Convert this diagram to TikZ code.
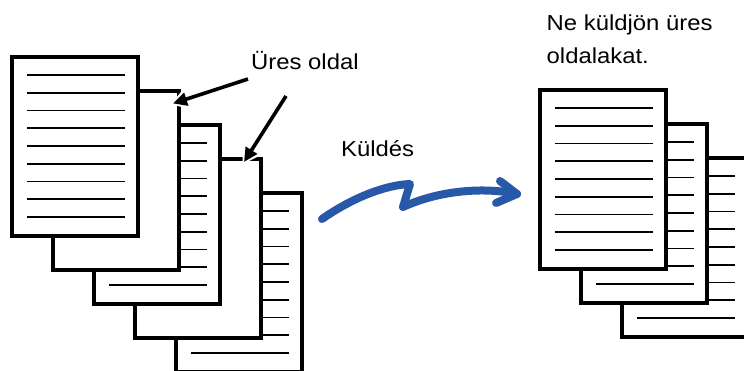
\documentclass[tikz,border=0pt]{standalone}
\usepackage{fontspec}
\setmainfont{Liberation Sans}[FakeStretch=1.1]
\usetikzlibrary{arrows.meta,calc}
\definecolor{sendblue}{RGB}{40,88,168}
\tikzset{
  sheet/.style={draw=black, line width=3.3pt, fill=white, rectangle, inner sep=0pt, outer sep=0pt,
    minimum width=126pt, minimum height=179pt, anchor=north west},
  textline/.style={draw=black, line width=1.8pt},
  lbl/.style={inner sep=0pt, anchor=base west, font=\fontsize{21.7}{26}\selectfont},
  pointer/.style={draw=black, line width=3.6pt, -{Triangle[length=14pt,width=13pt]}},
  halo/.style={draw=white, line width=8pt, -{Triangle[length=18pt,width=20pt]}},
  sendarrow/.style={draw=sendblue, line width=8pt, line cap=round, line join=round}
}
\newcommand{\pagelines}[1]{%
  \foreach \i in {0,...,8}{\draw[textline] ([shift={(14.5,18+17.75*\i)}]#1.north west) -- ++(98,0);}}
\begin{document}
\begin{tikzpicture}[x=1pt,y=-1pt]
\clip (0,0) rectangle (744,370);
\fill[white] (0,0) rectangle (744,370);
% left stack (back to front)
\node[sheet] (p5) at (176,193) {}; \pagelines{p5}
\node[sheet] (p4) at (135,159) {};
\node[sheet] (p3) at (94,125) {}; \pagelines{p3}
\node[sheet] (p2) at (53,91) {};
\node[sheet] (p1) at (12,57) {}; \pagelines{p1}
% right stack
\node[sheet] (r3) at (622,158) {}; \pagelines{r3}
\node[sheet] (r2) at (581,124) {}; \pagelines{r2}
\node[sheet] (r1) at (540,90) {}; \pagelines{r1}
% labels
\node[lbl] (blank) at (251,69.3) {Üres oldal};
\node[lbl] (send) at (341,156.7) {Küldés};
\node[lbl] (note1) at (546.5,30) {Ne küldjön üres};
\node[lbl] (note2) at (546.5,63) {oldalakat.};
% pointers
\coordinate (a1s) at (248,79);
\coordinate (a2s) at (286,96);
\coordinate (a1e) at ([shift={(-6,12.5)}]p2.north east);
\coordinate (a2e) at ([shift={(-17,3)}]p4.north east);
\draw[halo] ($(a1s)!0.45!(a1e)$) -- ($(a1e)!-3pt!(a1s)$);
\draw[halo] ($(a2s)!0.45!(a2e)$) -- ($(a2e)!-3pt!(a2s)$);
\draw[pointer] (a1s) -- (a1e);
\draw[pointer] (a2s) -- (a2e);
% send arrow
\coordinate (bs) at (322,219);
\coordinate (be) at (517,194);
\draw[sendarrow] (bs) .. controls (352,198) and (385,185) .. (410,184) -- (403,207)
  .. controls (440,190) and (485,187) .. (be);
\draw[sendarrow] (500,181) -- (be) -- (496,203);
\end{tikzpicture}
\end{document}
